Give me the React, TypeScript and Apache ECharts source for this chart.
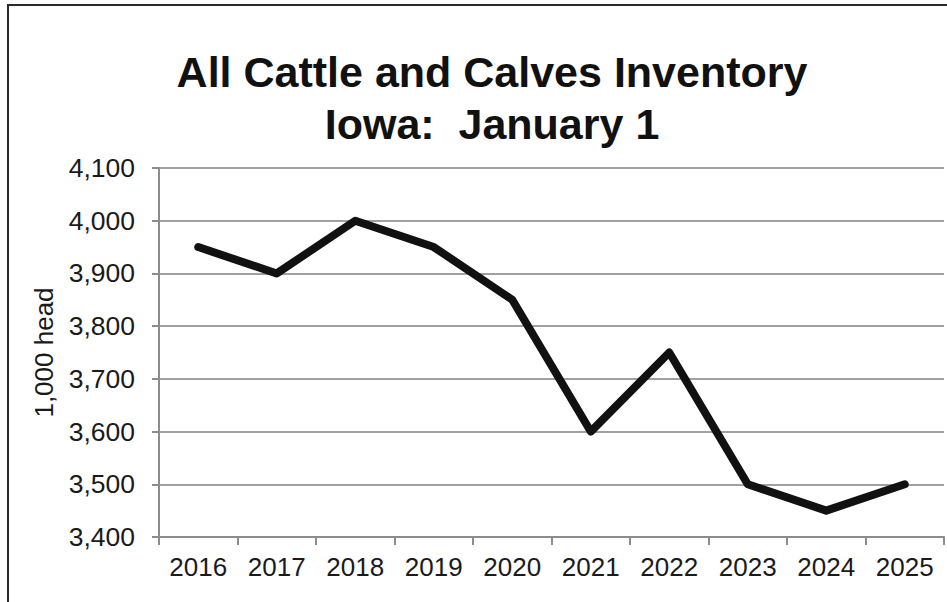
import React, { useEffect, useRef } from "react";
import * as echarts from "echarts";

const titleLines = ["All Cattle and Calves Inventory", "Iowa:  January 1"];
const yAxisName = "1,000 head";
const years = ["2016", "2017", "2018", "2019", "2020", "2021", "2022", "2023", "2024", "2025"];
const inventory = [3950, 3900, 4000, 3950, 3850, 3600, 3750, 3500, 3450, 3500];
const yMin = 3400;
const yMax = 4100;
const yStep = 100;

const FONT = "'Liberation Sans', Arial, Helvetica, sans-serif";

export default function App() {
  const ref = useRef<HTMLDivElement>(null);
  useEffect(() => {
    if (!ref.current) return;
    const chart = echarts.init(ref.current, undefined, { renderer: "svg" });
    chart.setOption({
      animation: false,
      backgroundColor: "#ffffff",
      title: {
        text: titleLines.join("\n"),
        left: 487,
        top: 41,
        textAlign: "center",
        textStyle: {
          fontFamily: FONT,
          fontSize: 43,
          fontWeight: "bold",
          color: "#111111",
          lineHeight: 52,
        },
      },
      graphic: [
        {
          type: "rect",
          shape: { x: 8, y: 5, width: 1000, height: 700 },
          style: { fill: "none", stroke: "#2a2a2a", lineWidth: 2 },
          silent: true,
        },
      ],
      grid: { left: 159, top: 168, right: 3, bottom: 65, containLabel: false },
      xAxis: {
        type: "category",
        data: years,
        boundaryGap: true,
        axisLine: { show: true, lineStyle: { color: "#8c8c8c", width: 2 } },
        axisTick: { show: true, length: 8, lineStyle: { color: "#8c8c8c", width: 2 } },
        axisLabel: { color: "#1a1a1a", fontFamily: FONT, fontSize: 26, margin: 17 },
        splitLine: { show: false },
      },
      yAxis: {
        type: "value",
        min: yMin,
        max: yMax,
        interval: yStep,
        name: yAxisName,
        nameLocation: "middle",
        nameRotate: 90,
        nameGap: 102,
        nameTextStyle: { color: "#1a1a1a", fontFamily: FONT, fontSize: 26 },
        axisLine: { show: true, lineStyle: { color: "#8c8c8c", width: 2 } },
        axisTick: { show: true, length: 7, lineStyle: { color: "#8c8c8c", width: 2 } },
        axisLabel: {
          color: "#1a1a1a",
          fontFamily: FONT,
          fontSize: 26.5,
          margin: 24,
          formatter: (v: number) => v.toLocaleString("en-US"),
        },
        splitLine: { show: true, lineStyle: { color: "#a0a0a0", width: 2 } },
      },
      series: [
        {
          type: "line",
          data: inventory,
          showSymbol: false,
          symbol: "none",
          lineStyle: { color: "#111111", width: 8, cap: "round", join: "round" },
          itemStyle: { color: "#111111" },
        },
      ],
    });
    return () => chart.dispose();
  }, []);
  return (
    <div
      ref={ref}
      style={{ position: "absolute", left: 0, top: 0, width: 947, height: 602 }}
    />
  );
}
